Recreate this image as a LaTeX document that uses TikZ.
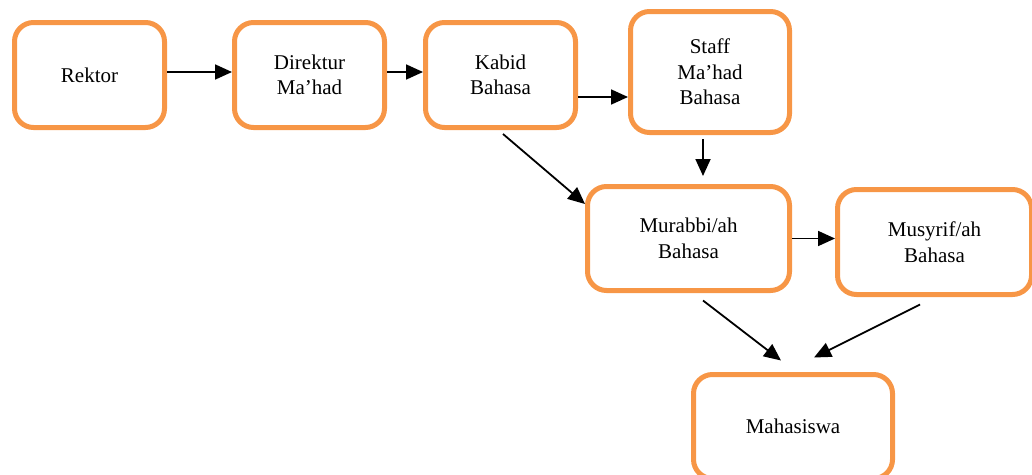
\documentclass[tikz,border=0pt]{standalone}
\usepackage{fontspec}
\setmainfont{Liberation Serif}
\usetikzlibrary{arrows.meta}
\definecolor{boxorange}{HTML}{F79646}

\begin{document}
\begin{tikzpicture}[x=1pt, y=-1pt,
  box/.style={draw=boxorange, line width=5pt, rounded corners=19pt, align=center, inner sep=0pt, font=\fontsize{21}{25.5}\selectfont},
  arr/.style={line width=1.8pt, -{Triangle[length=17pt, width=15pt]}}]
\useasboundingbox (0, 0) rectangle (1032, 474);

\node[box, minimum width=150, minimum height=105] (rektor) at (89.5, 75) {Rektor};
\node[box, minimum width=150, minimum height=105] (direktur) at (309.5, 75) {Direktur\\Ma’had};
\node[box, minimum width=150, minimum height=105] (kabid) at (500.5, 75) {Kabid\\Bahasa};
\node[box, minimum width=159, minimum height=121] (staff) at (710, 72) {Staff\\Ma’had\\Bahasa};
\node[box, minimum width=202, minimum height=104] (murabbi) at (688.5, 238.5) {Murabbi/ah\\Bahasa};
\node[box, minimum width=194, minimum height=105] (musyrif) at (934.5, 242) {Musyrif/ah\\Bahasa};
\node[box, minimum width=199, minimum height=104] (maha) at (793, 426.5) {Mahasiswa};

\coordinate (staffout) at ([xshift=-7pt, yshift=-4pt]staff.south);

\draw[arr] ([yshift=3pt]rektor.east) -- ([yshift=3pt]rektor.east -| direktur.west);
\draw[arr] ([yshift=3pt]direktur.east) -- ([yshift=3pt]direktur.east -| kabid.west);
\draw[arr] ([yshift=-22pt]kabid.east) -- ([yshift=-22pt]kabid.east -| staff.west);
\draw[arr, shorten >=8pt] (staffout) -- (staffout |- murabbi.north);
\draw[arr] ([xshift=2.5pt, yshift=-4pt]kabid.south) -- ([yshift=34.5pt]murabbi.west);
\draw[arr] (murabbi.east) -- (murabbi.east -| musyrif.west);
\draw[arr] ([xshift=14.5pt, yshift=-7.5pt]murabbi.south) -- ([xshift=-12pt, yshift=11.5pt]maha.north);
\draw[arr] ([xshift=-14.5pt, yshift=-7.5pt]musyrif.south) -- ([xshift=21pt, yshift=14.5pt]maha.north);
\end{tikzpicture}
\end{document}
